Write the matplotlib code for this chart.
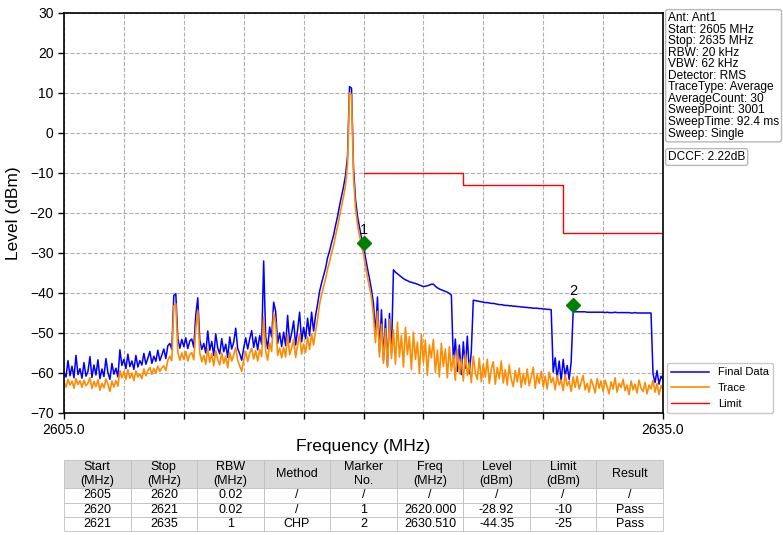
import numpy as np
import matplotlib.pyplot as plt

plt.rcParams['font.family'] = ['Liberation Sans', 'DejaVu Sans']

#==================================
#          data
#==================================
f_start = 2605.0
f_stop = 2635.0
# 301 sweep points, 0.1 MHz apart
freq = np.linspace(f_start, f_stop, 301)

final_data = [
    -59.8, -61.0, -56.9, -60.7, -58.3, -61.2, -55.6, -60.4, -58.9, -61.3,  # 2605
    -57.4, -60.8, -59.6, -55.9, -61.1, -58.0, -60.5, -56.7, -61.4, -59.0,  # 2606
    -60.9, -56.4, -59.9, -61.6, -57.6, -60.3, -58.8, -61.0, -54.2, -58.1,  # 2607
    -56.6, -58.9, -55.3, -58.4, -57.0, -59.1, -55.6, -58.5, -56.9, -58.0,  # 2608
    -55.1, -57.8, -56.3, -54.6, -57.6, -55.8, -57.1, -54.3, -56.9, -55.5,  # 2609
    -54.0, -56.4, -53.2, -52.6, -54.1, -40.6, -40.2, -51.3, -53.8, -51.6,  # 2610
    -53.4, -51.2, -53.9, -52.0, -51.5, -53.6, -45.5, -41.2, -51.8, -54.1,  # 2611
    -52.6, -55.0, -49.5, -54.3, -52.1, -55.6, -50.2, -53.8, -55.2, -51.4,  # 2612
    -54.7, -52.8, -56.1, -51.0, -54.0, -52.3, -48.8, -53.9, -55.2, -56.8,  # 2613
    -53.8, -51.2, -54.0, -51.5, -49.4, -53.6, -51.0, -54.2, -50.6, -52.8,  # 2614
    -32.0, -50.8, -53.9, -48.5, -51.0, -42.3, -44.5, -52.6, -50.0, -53.4,  # 2615
    -49.8, -53.2, -45.6, -52.4, -50.1, -47.0, -53.0, -49.2, -44.8, -52.2,  # 2616
    -48.6, -51.4, -46.3, -50.7, -44.8, -49.5, -45.6, -42.8, -39.6, -37.5,  # 2617
    -35.6, -33.8, -31.2, -29.5, -27.4, -25.6, -23.1, -20.9, -18.2, -15.8,  # 2618
    -13.4, -10.6, -5.8, 11.6, 11.2, -8.8, -16.6, -20.8, -23.6, -26.2,      # 2619
    -27.9, -31.2, -33.9, -36.4, -39.2, -42.6, -50.5, -41.0, -54.6, -44.2,  # 2620
    -56.8, -46.5, -58.2, -45.1, -55.0, -34.2, -34.8, -35.2, -35.6, -36.0,  # 2621
    -36.4, -36.7, -36.9, -37.2, -37.3, -37.5, -37.6, -37.8, -38.0, -38.2,  # 2622
    -38.4, -38.3, -38.2, -38.0, -37.8, -37.8, -38.3, -38.7, -39.0, -39.2,  # 2623
    -39.4, -39.6, -39.8, -40.1, -40.5, -57.2, -51.5, -59.6, -53.0, -60.4,  # 2624
    -52.2, -58.8, -50.8, -60.2, -54.6, -41.8, -41.9, -42.0, -42.1, -42.2,  # 2625
    -42.3, -42.4, -42.4, -42.5, -42.6, -42.6, -42.7, -42.8, -42.9, -42.9,  # 2626
    -43.0, -43.1, -43.1, -43.2, -43.2, -43.3, -43.3, -43.4, -43.4, -43.5,  # 2627
    -43.5, -43.6, -43.6, -43.7, -43.7, -43.8, -43.8, -43.8, -43.9, -43.9,  # 2628
    -44.0, -44.0, -44.1, -44.1, -44.2, -59.8, -56.2, -61.4, -57.0, -62.0,  # 2629
    -56.6, -60.8, -58.1, -61.6, -57.3, -44.7, -44.7, -44.7, -44.7, -44.7,  # 2630
    -44.7, -44.7, -44.8, -44.8, -44.8, -44.8, -44.8, -44.8, -44.8, -44.8,  # 2631
    -44.8, -44.9, -44.8, -44.9, -44.9, -44.9, -44.8, -44.9, -44.9, -44.9,  # 2632
    -44.9, -44.9, -44.9, -44.9, -45.0, -45.0, -44.9, -45.0, -45.0, -45.0,  # 2633
    -45.0, -45.0, -45.0, -45.0, -45.0, -60.2, -62.4, -59.4, -62.8, -60.8,  # 2634
    -61.6]

trace = [
    -62.3, -63.5, -61.6, -63.0, -62.0, -63.8, -61.4, -62.9, -61.9, -63.6,  # 2605
    -61.8, -63.2, -62.5, -61.2, -63.9, -62.1, -63.4, -61.7, -64.3, -62.6,  # 2606
    -63.7, -61.5, -62.8, -64.6, -62.0, -63.5, -61.9, -63.3, -59.4, -61.2,  # 2607
    -59.6, -61.6, -59.2, -61.3, -60.0, -61.9, -59.5, -61.0, -60.2, -61.4,  # 2608
    -59.0, -60.7, -59.4, -58.6, -60.3, -58.9, -60.0, -58.3, -59.6, -58.7,  # 2609
    -58.2, -59.4, -56.8, -55.8, -56.9, -43.2, -42.7, -54.8, -56.8, -55.0,  # 2610
    -56.6, -54.6, -57.0, -55.4, -54.9, -56.7, -49.0, -44.4, -55.0, -57.2,  # 2611
    -55.6, -57.8, -53.9, -57.3, -55.2, -58.2, -54.4, -56.7, -58.0, -55.0,  # 2612
    -57.6, -55.8, -58.7, -54.8, -57.0, -55.5, -53.6, -56.9, -58.2, -59.6,  # 2613
    -56.8, -54.6, -57.1, -55.0, -53.8, -56.5, -54.4, -57.0, -54.2, -55.9,  # 2614
    -46.0, -54.4, -56.8, -52.5, -54.6, -45.0, -47.5, -55.6, -53.8, -56.2,  # 2615
    -53.6, -56.0, -50.4, -55.4, -53.8, -51.6, -56.1, -53.0, -50.2, -55.3,  # 2616
    -52.8, -54.8, -51.0, -54.1, -50.2, -53.0, -49.6, -46.5, -42.8, -40.4,  # 2617
    -38.4, -36.5, -34.0, -32.2, -30.0, -28.2, -25.6, -23.4, -20.8, -18.3,  # 2618
    -15.9, -13.0, -8.0, 10.0, 9.6, -11.0, -18.8, -23.0, -25.6, -28.3,      # 2619
    -30.2, -33.4, -36.0, -38.6, -41.2, -45.8, -52.4, -44.6, -56.0, -47.8,  # 2620
    -57.6, -48.9, -58.6, -46.6, -56.4, -49.2, -57.8, -47.3, -56.0, -50.6,  # 2621
    -58.5, -48.6, -55.4, -50.9, -59.2, -49.8, -56.6, -52.3, -60.0, -50.4,  # 2622
    -57.4, -51.8, -60.6, -53.0, -56.2, -51.6, -59.8, -54.3, -61.0, -52.6,  # 2623
    -58.4, -54.0, -61.2, -53.4, -59.5, -55.6, -61.8, -54.2, -60.2, -56.5,  # 2624
    -62.0, -55.2, -60.6, -57.4, -62.4, -55.8, -59.9, -61.6, -56.3, -62.2,  # 2625
    -57.8, -61.0, -56.6, -62.6, -59.0, -57.2, -62.8, -58.6, -61.4, -57.0,  # 2626
    -62.5, -59.2, -63.0, -58.0, -61.6, -63.4, -59.4, -62.2, -58.8, -63.6,  # 2627
    -60.2, -62.8, -59.0, -63.2, -61.0, -58.6, -63.8, -60.4, -62.6, -59.6,  # 2628
    -63.4, -60.8, -64.0, -59.8, -62.4, -61.2, -64.2, -60.6, -63.0, -61.8,  # 2629
    -64.4, -60.4, -63.2, -62.0, -64.6, -61.0, -63.6, -60.8, -64.0, -62.4,  # 2630
    -60.6, -64.2, -62.6, -64.8, -61.6, -63.0, -65.0, -61.4, -63.8, -62.0,  # 2631
    -64.6, -61.8, -63.4, -65.2, -62.2, -64.0, -61.2, -64.8, -62.6, -63.6,  # 2632
    -61.6, -64.4, -63.0, -65.4, -62.0, -64.2, -62.8, -65.0, -61.8, -63.8,  # 2633
    -64.6, -62.4, -65.2, -63.0, -64.0, -61.8, -64.8, -62.6, -65.4, -63.2,  # 2634
    -63.8]

# limit mask (MHz edges, dBm)
limit_freq = [2620, 2625, 2630, 2635]
limit_level = [-10, -13, -25, -25]

# markers (from the table)
marker_no = ['1', '2']
marker_freq = [2620.000, 2630.510]
marker_level = [-28.92, -44.35]

info_lines = ['Ant: Ant1', 'Start: 2605 MHz', 'Stop: 2635 MHz', 'RBW: 20 kHz',
              'VBW: 62 kHz', 'Detector: RMS', 'TraceType: Average',
              'AverageCount: 30', 'SweepPoint: 3001', 'SweepTime: 92.4 ms',
              'Sweep: Single']
dccf_text = 'DCCF: 2.22dB'

col_labels = ['Start\n(MHz)', 'Stop\n(MHz)', 'RBW\n(MHz)', 'Method', 'Marker\nNo.',
              'Freq\n(MHz)', 'Level\n(dBm)', 'Limit\n(dBm)', 'Result']
table_rows = [
    ['2605', '2620', '0.02', '/', '/', '/', '/', '/', '/'],
    ['2620', '2621', '0.02', '/', '1', '2620.000', '-28.92', '-10', 'Pass'],
    ['2621', '2635', '1', 'CHP', '2', '2630.510', '-44.35', '-25', 'Pass'],
]

#==================================
#          plot
#==================================
W, H = 783, 535
fig = plt.figure(figsize=(W/100, H/100), dpi=100)
ax = fig.add_axes([64/W, 1-413/H, 599/W, 400/H])

ax.plot(freq, final_data, color='blue', lw=1.1, label='Final Data')
ax.plot(freq, trace, color='darkorange', lw=1.2, label='Trace')
ax.plot(limit_freq, limit_level, color='red', lw=1.0, drawstyle='steps-post', label='Limit')

mk_off = 1.4   # diamond sits a bit above the reported level
for n, f, l in zip(marker_no, marker_freq, marker_level):
    ax.plot(f, l + mk_off, 'D', color='green', ms=7, zorder=5)
    ax.text(f, l + mk_off + 1.6, n, ha='center', va='bottom', fontsize=10.5)

ax.set_xlim(f_start, f_stop)
ax.set_ylim(-70, 30)
ax.set_yticks(np.arange(-70, 31, 10))
xt = np.arange(f_start, f_stop + 0.1, 3)
ax.set_xticks(xt)
ax.set_xticklabels(['%.1f' % x if x in (f_start, f_stop) else '' for x in xt])
ax.tick_params(labelsize=10, width=1.0, length=4)
ax.grid(True, ls='--', color='#b0b0b0', lw=0.8)
for s in ax.spines.values():
    s.set_linewidth(1.2)

ax.set_xlabel('Frequency (MHz)', fontsize=12.5, labelpad=1)
ax.set_ylabel('Level (dBm)', fontsize=12.5, labelpad=6)

leg = ax.legend(loc='lower left', bbox_to_anchor=(1.006, 0.0), fontsize=8,
                handlelength=3.4, borderaxespad=0, framealpha=1, edgecolor='#c8c8c8')

fig.text(668/W, 1-12/H, '\n'.join(info_lines), fontsize=8.6, va='top', ha='left',
         linespacing=0.95,
         bbox=dict(boxstyle='round,pad=0.2', fc='white', ec='#b8b8b8'))
fig.text(668/W, 1-151/H, dccf_text, fontsize=8.6, va='top', ha='left',
         bbox=dict(boxstyle='round,pad=0.2', fc='white', ec='#b8b8b8'))

# result table under the chart
tax = fig.add_axes([64/W, 1-531/H, 599/W, 71/H])
tax.axis('off')
tb = tax.table(cellText=table_rows, colLabels=col_labels, cellLoc='center',
               bbox=[0, 0, 1, 1])
tb.auto_set_font_size(False)
tb.set_fontsize(9)
for (r, c), cell in tb.get_celld().items():
    cell.set_edgecolor('#c0c0c0')
    cell.set_linewidth(0.6)
    cell.PAD = 0.02
    if r == 0:
        cell.set_facecolor('#d9d9d9')
        cell.set_height(0.4)
    else:
        cell.set_height(0.2)

fig.savefig('out.png', dpi=100)
